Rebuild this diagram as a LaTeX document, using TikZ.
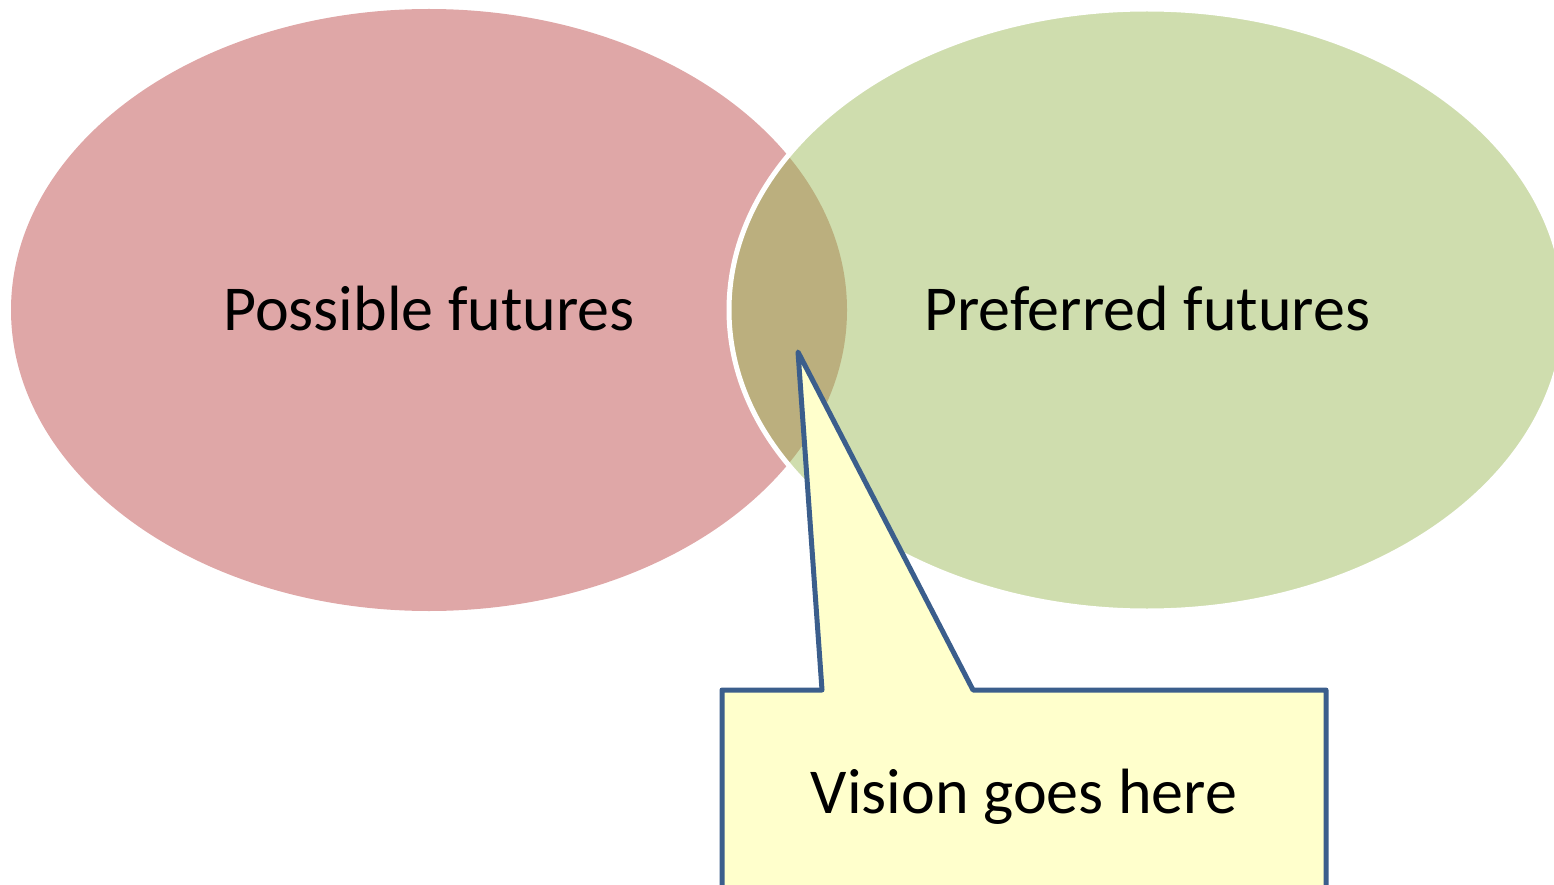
\documentclass[tikz,border=0pt]{standalone}
\usepackage{fontspec}
\setmainfont{Carlito}
\definecolor{pinkfill}{HTML}{DFA7A7}
\definecolor{greenfill}{HTML}{CFDDAE}
\definecolor{olivefill}{HTML}{BBAF7E}
\definecolor{callfill}{HTML}{FFFFCC}
\definecolor{callline}{HTML}{3B5E8C}
\tikzset{
  lbl/.style={font=\fontsize{64}{76}\selectfont, text=black, anchor=base, inner sep=0pt},
  callout/.style={fill=callfill, draw=callline, line width=5pt, line join=round}
}
\begin{document}
\begin{tikzpicture}[x=1pt,y=-1pt]
\useasboundingbox (0,0) rectangle (1554,885);
\begin{scope}
\clip (0,0) rectangle (1554,885);
% left ellipse
\fill[pinkfill] (429,310) ellipse [x radius=418, y radius=301];
% right ellipse
\fill[greenfill] (1147,310) ellipse [x radius=418, y radius=301];
% overlap
\begin{scope}
\clip (429,310) ellipse [x radius=418, y radius=301];
\fill[olivefill] (1147,310) ellipse [x radius=418, y radius=301];
\end{scope}
\draw[white, line width=5pt] (1147,310) ellipse [x radius=418, y radius=301];
% labels
\node[lbl] (possible) at (429,330) {Possible futures};
\node[lbl] (preferred) at (1147,330) {Preferred futures};
% callout
\coordinate (tip) at (798,352);
\draw[callout] (722,900) -- (722,690) -- (822,690) -- (tip) -- (973,690) -- (1326,690) -- (1326,900);
\node[lbl] (vision) at (1024,813) {Vision goes here};
\end{scope}
\end{tikzpicture}
\end{document}
